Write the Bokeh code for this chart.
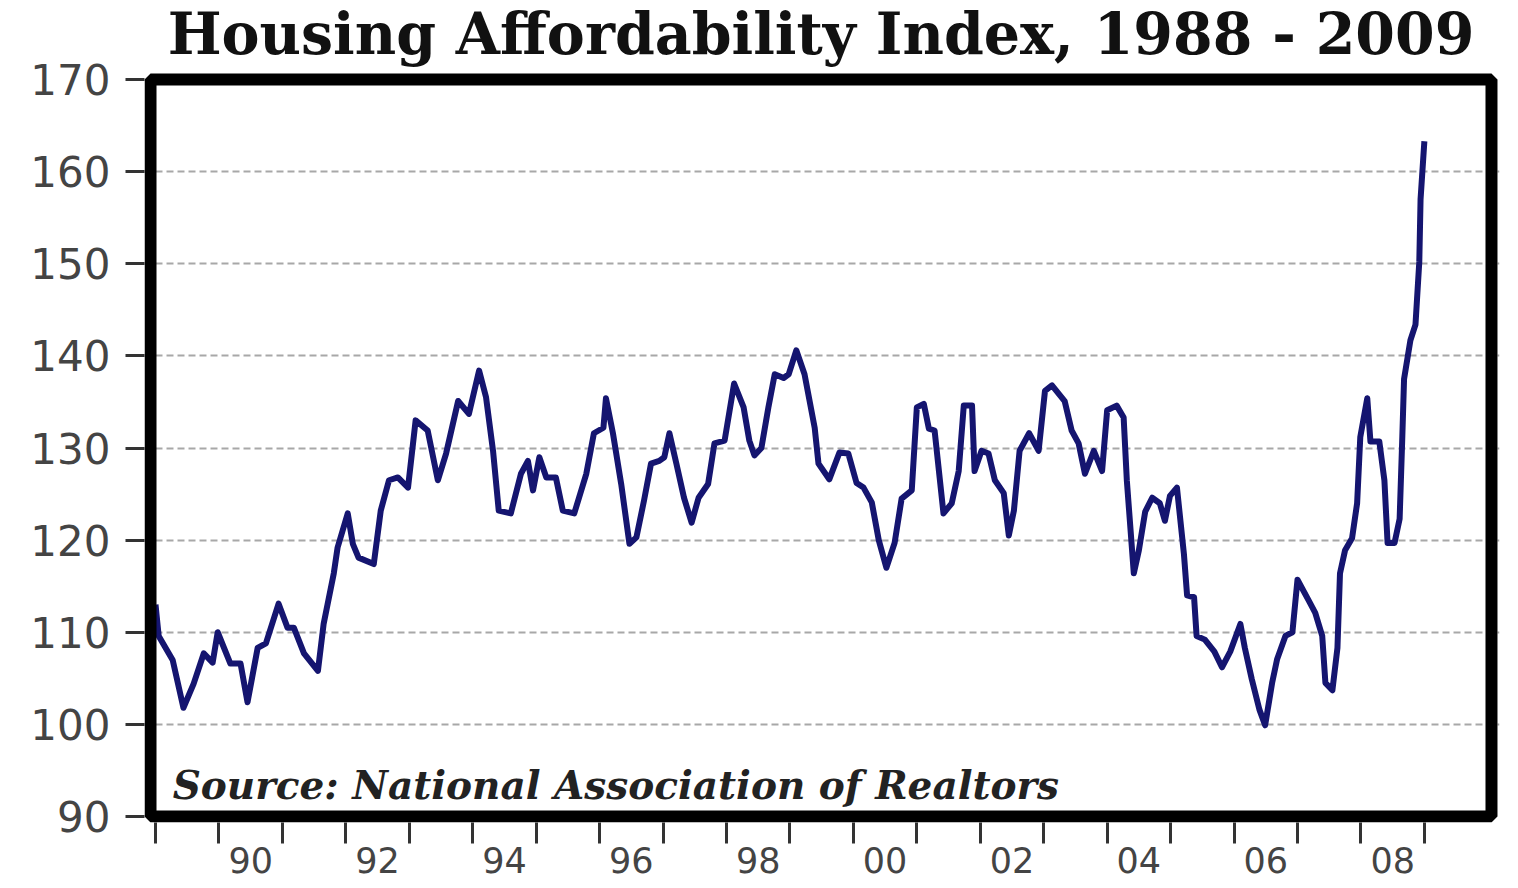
from bokeh.plotting import figure
from bokeh.models import FixedTicker, Range1d, Label, BoxAnnotation
from bokeh.embed import file_html
from bokeh.resources import INLINE

# ---- data ----
years = [
    1989.00, 1989.05, 1989.27, 1989.44, 1989.60, 1989.76, 1989.90, 1989.98,
    1990.18, 1990.34, 1990.45, 1990.61, 1990.74, 1990.94, 1991.08, 1991.18,
    1991.34, 1991.56, 1991.65, 1991.81, 1991.87, 1992.03, 1992.11, 1992.20,
    1992.44, 1992.55, 1992.68, 1992.82, 1992.98, 1993.10, 1993.29, 1993.45,
    1993.58, 1993.77, 1993.94, 1994.10, 1994.21, 1994.32, 1994.41, 1994.60,
    1994.76, 1994.87, 1994.95, 1995.05, 1995.16, 1995.31, 1995.42, 1995.60,
    1995.79, 1995.91, 1996.06, 1996.10, 1996.21, 1996.34, 1996.47, 1996.58,
    1996.70, 1996.81, 1996.94, 1997.02, 1997.10, 1997.21, 1997.33, 1997.45,
    1997.56, 1997.71, 1997.81, 1997.97, 1998.12, 1998.27, 1998.36, 1998.44,
    1998.55, 1998.66, 1998.76, 1998.90, 1998.98, 1999.10, 1999.23, 1999.39,
    1999.45, 1999.62, 1999.78, 1999.92, 2000.05, 2000.16, 2000.29, 2000.40,
    2000.52, 2000.65, 2000.76, 2000.92, 2001.00, 2001.11, 2001.19, 2001.28,
    2001.42, 2001.55, 2001.66, 2001.74, 2001.87, 2001.91, 2002.02, 2002.13,
    2002.23, 2002.37, 2002.45, 2002.53, 2002.62, 2002.77, 2002.92, 2003.02,
    2003.13, 2003.33, 2003.44, 2003.55, 2003.65, 2003.79, 2003.92, 2004.00,
    2004.15, 2004.26, 2004.31, 2004.42, 2004.50, 2004.60, 2004.71, 2004.83,
    2004.91, 2004.99, 2005.10, 2005.21, 2005.26, 2005.37, 2005.41, 2005.54,
    2005.69, 2005.81, 2005.94, 2006.10, 2006.17, 2006.28, 2006.40, 2006.49,
    2006.60, 2006.68, 2006.81, 2006.92, 2007.00, 2007.18, 2007.28, 2007.39,
    2007.44, 2007.55, 2007.63, 2007.67, 2007.75, 2007.86, 2007.94, 2007.99,
    2008.10, 2008.15, 2008.29, 2008.37, 2008.42, 2008.53, 2008.61, 2008.65,
    2008.68, 2008.78, 2008.86, 2008.92, 2008.94, 2009.00,
]
affordability_index = [
    113.0, 109.6, 107.0, 101.8, 104.4, 107.7, 106.7, 110.0,
    106.6, 106.6, 102.4, 108.3, 108.8, 113.1, 110.5, 110.5,
    107.7, 105.8, 110.9, 116.4, 119.2, 122.9, 119.6, 118.1,
    117.4, 123.2, 126.5, 126.8, 125.7, 133.0, 131.9, 126.5,
    129.4, 135.1, 133.7, 138.4, 135.5, 129.7, 123.2, 122.9,
    127.2, 128.6, 125.4, 129.0, 126.8, 126.8, 123.2, 122.9,
    127.2, 131.6, 132.2, 135.4, 131.6, 126.1, 119.6, 120.3,
    124.3, 128.3, 128.6, 129.0, 131.6, 128.3, 124.6, 121.9,
    124.6, 126.1, 130.5, 130.8, 137.0, 134.4, 130.8, 129.2,
    130.0, 134.4, 138.0, 137.6, 138.0, 140.6, 138.0, 132.2,
    128.3, 126.6, 129.5, 129.4, 126.2, 125.7, 124.1, 120.0,
    117.0, 119.7, 124.5, 125.4, 134.4, 134.8, 132.1, 131.9,
    122.9, 124.0, 127.5, 134.6, 134.6, 127.5, 129.7, 129.4,
    126.5, 125.1, 120.5, 123.2, 129.7, 131.6, 129.7, 136.2,
    136.8, 135.1, 131.9, 130.5, 127.2, 129.7, 127.5, 134.1,
    134.6, 133.3, 126.5, 116.4, 118.9, 123.1, 124.6, 124.0,
    122.1, 124.8, 125.7, 118.5, 114.0, 113.8, 109.6, 109.2,
    107.9, 106.2, 107.9, 110.9, 108.3, 104.9, 101.6, 99.9,
    104.5, 107.1, 109.6, 110.0, 115.7, 113.4, 112.1, 109.6,
    104.5, 103.7, 108.3, 116.4, 118.9, 120.2, 124.0, 131.2,
    135.4, 130.7, 130.7, 126.5, 119.7, 119.7, 122.3, 130.7,
    137.5, 141.7, 143.4, 150.2, 157.0, 163.3,
]

y_ticks = [90, 100, 110, 120, 130, 140, 150, 160, 170]
grid_levels = [100, 110, 120, 130, 140, 150, 160]
year_ticks = list(range(1989, 2010))
x_label_positions = [1990.5, 1992.5, 1994.5, 1996.5, 1998.5,
                     2000.5, 2002.5, 2004.5, 2006.5, 2008.5]
x_labels = ["90", "92", "94", "96", "98", "00", "02", "04", "06", "08"]

title_text = "Housing Affordability Index, 1988 - 2009"
source_text = "Source: National Association of Realtors"

# ---- geometry of the chart box ----
PX_PER_YEAR = 63.35           # horizontal scale
PX_PER_UNIT = 9.2125          # vertical scale (px per index point)
BOX_X0, BOX_X1 = 1988.921, 2010.058   # framed box, in years
BOX_Y0, BOX_Y1 = 90, 170              # framed box, in index points
BORDER = 12
# the drawing area reaches up to the top of the canvas so the title fits in it
X_START = BOX_X0 - (BORDER / 2) / PX_PER_YEAR
X_END = BOX_X1 + (BORDER / 2 + 2) / PX_PER_YEAR
Y_START = BOX_Y0 - (BORDER / 2) / PX_PER_UNIT
Y_END = BOX_Y1 + 79 / PX_PER_UNIT

title_x = (BOX_X0 + BOX_X1) / 2
title_y = BOX_Y1 + 46.2 / PX_PER_UNIT
source_x, source_y = 1989.27, 93.37

p = figure(width=1502, height=880, output_backend="svg", toolbar_location=None,
           x_range=Range1d(X_START, X_END), y_range=Range1d(Y_START, Y_END),
           min_border_left=144, min_border_right=3,
           min_border_top=0, min_border_bottom=58)
p.background_fill_color = "white"
p.border_fill_color = "white"
p.outline_line_color = None

# y axis
yax = p.yaxis[0]
yax.ticker = FixedTicker(ticks=y_ticks)
yax.axis_line_color = None
yax.major_tick_out = 19
yax.major_tick_in = 0
yax.major_tick_line_width = 3
yax.major_tick_line_color = "#333333"
yax.minor_tick_line_color = None
yax.major_label_text_font = "DejaVu Sans"
yax.major_label_text_font_size = "42px"
yax.major_label_text_color = "#444444"
yax.major_label_standoff = 15

# x axis: labels centred in each year, ticks at year boundaries
xax = p.xaxis[0]
xax.ticker = FixedTicker(ticks=x_label_positions, minor_ticks=year_ticks)
xax.major_label_overrides = {pos: lab for pos, lab in zip(x_label_positions, x_labels)}
xax.axis_line_color = None
xax.major_tick_out = 0
xax.major_tick_in = 0
xax.major_tick_line_color = None
xax.minor_tick_out = 21
xax.minor_tick_in = 0
xax.minor_tick_line_width = 3
xax.minor_tick_line_color = "#333333"
xax.major_label_text_font = "DejaVu Sans"
xax.major_label_text_font_size = "35px"
xax.major_label_text_color = "#444444"
xax.major_label_standoff = 3

p.xgrid.grid_line_color = None
p.ygrid.ticker = FixedTicker(ticks=grid_levels)
p.ygrid.grid_line_color = "#a8a8a8"
p.ygrid.grid_line_width = 2
p.ygrid.grid_line_dash = "7 4"
p.ygrid.bounds = (BOX_X0, BOX_X1)

p.line(years, affordability_index, line_color="#151570", line_width=6,
       line_join="round")

# thick black box round the data area
p.add_layout(BoxAnnotation(left=BOX_X0, right=BOX_X1, bottom=BOX_Y0, top=BOX_Y1,
                           fill_color=None, fill_alpha=0, line_color="black",
                           line_alpha=1.0, line_width=BORDER))

p.add_layout(Label(x=title_x, y=title_y, text=title_text,
                   text_font="DejaVu Serif", text_font_style="bold",
                   text_font_size="57px", text_color="#111111",
                   text_align="center", text_baseline="alphabetic"))

p.add_layout(Label(x=source_x, y=source_y, text=source_text,
                   text_font="DejaVu Serif", text_font_style="bold italic",
                   text_font_size="39px", text_color="#222222",
                   text_baseline="alphabetic"))

open("out.html", "w").write(file_html(p, INLINE))
